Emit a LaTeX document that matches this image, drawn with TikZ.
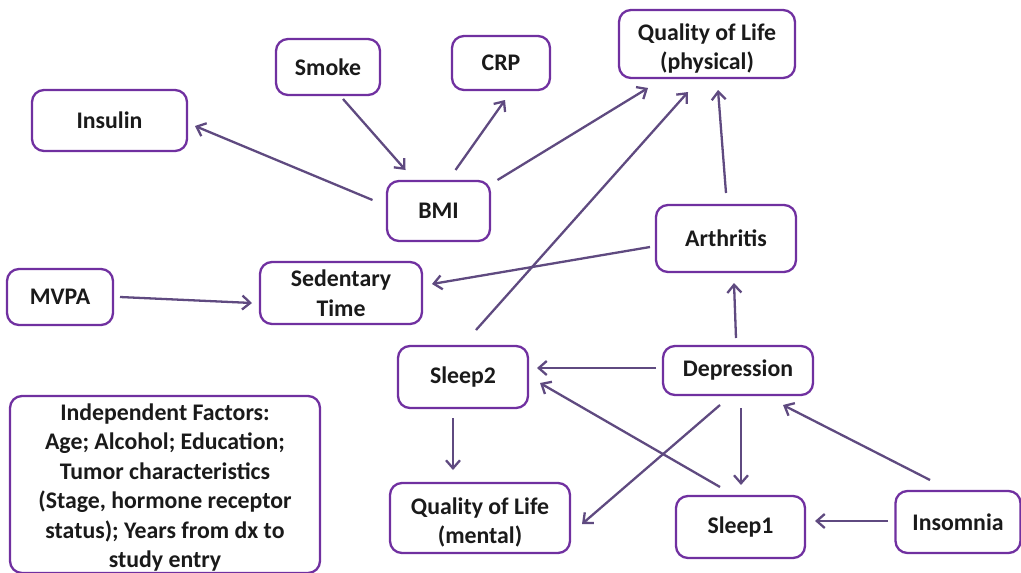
\documentclass[tikz,border=0pt]{standalone}
\usepackage{fontspec}
\setmainfont{Carlito}
\usetikzlibrary{arrows.meta}
\definecolor{boxpurple}{HTML}{7030A0}
\definecolor{arrpurple}{HTML}{5F4A80}
\definecolor{txt}{HTML}{1A1A1A}
\newcommand{\mlines}[2]{\raisebox{#1}[\height][\depth]{\begin{tabular}{@{}c@{}}#2\end{tabular}}}
\tikzset{
  box/.style={draw=boxpurple, line width=2.3pt, rounded corners=12pt, fill=white,
    align=center, inner sep=0pt, text=txt,
    font=\bfseries\fontsize{23.8}{29.5}\selectfont},
  arr/.style={draw=arrpurple, line width=2.3pt,
    -{Straight Barb[length=8pt,width=14pt]}},
}
\begin{document}
\begin{tikzpicture}[x=1pt,y=-1pt]
\useasboundingbox (0,0) rectangle (1021,573);
\node[box, minimum width=155pt, minimum height=61pt] (insulin) at (109.5,120.5) {Insulin};
\node[box, minimum width=104pt, minimum height=56pt] (smoke) at (328,67) {Smoke};
\node[box, minimum width=98pt, minimum height=54pt] (crp) at (501,63) {CRP};
\node[box, minimum width=176pt, minimum height=68pt] (qolp) at (707,44) {\mlines{-5pt}{Quality of Life\\(physical)}};
\node[box, minimum width=103pt, minimum height=60pt] (bmi) at (438.5,211) {BMI};
\node[box, minimum width=140pt, minimum height=67pt] (arth) at (726,238.5) {Arthritis};
\node[box, minimum width=106pt, minimum height=56pt] (mvpa) at (60,297) {MVPA};
\node[box, minimum width=162pt, minimum height=62pt] (sed) at (341,293) {Sedentary\\Time};
\node[box, minimum width=130pt, minimum height=62pt] (sleep2) at (463,377) {Sleep2};
\node[box, minimum width=150pt, minimum height=49pt] (dep) at (738,370.5) {Depression};
\node[box, minimum width=310pt, minimum height=173pt] (indep) at (165,484.5) {\mlines{-3.5pt}{Independent Factors:\\Age; Alcohol; Education;\\Tumor characteristics\\(Stage, hormone receptor\\status); Years from dx to\\study entry}};
\node[box, minimum width=180pt, minimum height=70pt] (qolm) at (480,518) {\mlines{-5pt}{Quality of Life\\(mental)}};
\node[box, minimum width=129pt, minimum height=62pt] (sleep1) at (740.5,527) {Sleep1};
\node[box, minimum width=125pt, minimum height=62pt] (insom) at (958,522) {Insomnia};

\draw[arr] ([shift={(-66,-11)}]bmi.center) -- ([shift={(85.5,5.5)}]insulin.center);
\draw[arr] ([shift={(15,32)}]smoke.center) -- ([shift={(-33,-41)}]bmi.center);
\draw[arr] ([shift={(17,-41)}]bmi.center) -- ([shift={(4,37)}]crp.center);
\draw[arr] ([shift={(59,-31)}]bmi.center) -- ([shift={(-59,44)}]qolp.center);
\draw[arr] ([shift={(13,-47)}]sleep2.center) -- ([shift={(-19,48)}]qolp.center);
\draw[arr] ([shift={(0,-45.5)}]arth.center) -- ([shift={(11,46)}]qolp.center);
\draw[arr] ([shift={(-76,8.5)}]arth.center) -- ([shift={(91,-9)}]sed.center);
\draw[arr] ([shift={(60,0)}]mvpa.center) -- ([shift={(-89,10)}]sed.center);
\draw[arr] ([shift={(-2,-32.5)}]dep.center) -- ([shift={(8,44.5)}]arth.center);
\draw[arr] ([shift={(-82,-2.5)}]dep.center) -- ([shift={(74,-9)}]sleep2.center);
\draw[arr] ([shift={(-20.5,-40)}]sleep1.center) -- ([shift={(77,6)}]sleep2.center);
\draw[arr] ([shift={(-10,41)}]sleep2.center) -- ([shift={(-27,-48)}]qolm.center);
\draw[arr] ([shift={(-18,34.5)}]dep.center) -- ([shift={(102,6)}]qolm.center);
\draw[arr] ([shift={(3,37.5)}]dep.center) -- ([shift={(0.5,-42)}]sleep1.center);
\draw[arr] ([shift={(-28,-42)}]insom.center) -- ([shift={(45,34.5)}]dep.center);
\draw[arr] ([shift={(-70,-1)}]insom.center) -- ([shift={(74.5,-6)}]sleep1.center);
\end{tikzpicture}
\end{document}
